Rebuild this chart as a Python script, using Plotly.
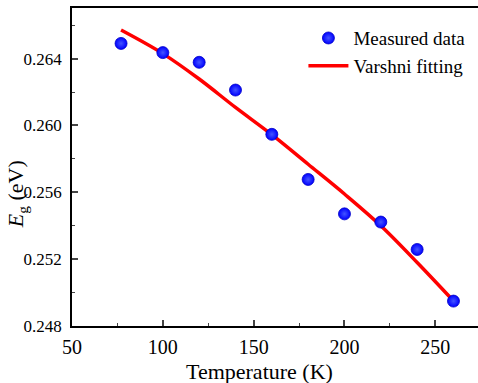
import plotly.graph_objects as go

# Measured data
temp_meas = [77, 100, 120, 140, 160, 180, 200, 220, 240, 260]
eg_meas = [0.26491, 0.26436, 0.26378, 0.26212, 0.25947, 0.25677, 0.25471, 0.25422, 0.25258, 0.24949]

# Varshni fitting curve
temp_fit = [77, 100, 120, 140, 160, 180, 200, 220, 240, 260]
eg_fit = [0.26571, 0.26430, 0.26278, 0.26108, 0.25945, 0.25768, 0.25590, 0.25400, 0.25180, 0.24950]

x_ticks = [50, 100, 150, 200, 250]
y_ticks = [0.248, 0.252, 0.256, 0.260, 0.264]

FONT = "Times New Roman, Liberation Serif, serif"

fig = go.Figure()
fig.add_trace(go.Scatter(
    x=temp_fit, y=eg_fit, mode="lines", name="Varshni fitting",
    line=dict(color="#ff0000", width=3.5, shape="spline", smoothing=1.0),
    showlegend=False,
))
fig.add_trace(go.Scatter(
    x=temp_meas, y=eg_meas, mode="markers", name="Measured data",
    marker=dict(size=12, color="#0000ff",
                gradient=dict(type="radial", color="#4455ff"),
                line=dict(width=0.8, color="#0000c8")),
))
fig.add_trace(go.Scatter(
    x=[None], y=[None], mode="lines", name="Varshni fitting",
    line=dict(color="#ff0000", width=3.5),
))

fig.update_layout(
    width=478, height=383,
    margin=dict(l=72, r=0, t=8, b=57),
    paper_bgcolor="white", plot_bgcolor="white",
    font=dict(family=FONT, size=17, color="black"),
    legend=dict(x=0.57, y=0.965, xanchor="left", yanchor="top",
                bgcolor="rgba(0,0,0,0)", font=dict(family=FONT, size=19),
                tracegroupgap=0, itemwidth=40),
    annotations=[
        dict(text="Temperature (K)", xref="paper", yref="paper",
             x=0.462, y=-0.142, xanchor="center", yanchor="middle",
             showarrow=False, font=dict(family=FONT, size=22)),
        dict(text="<i>E</i><sub>g</sub> (eV)", xref="paper", yref="paper",
             x=-0.135, y=0.415, xanchor="center", yanchor="middle", textangle=-90,
             showarrow=False, font=dict(family=FONT, size=22)),
    ],
)
fig.update_xaxes(
    range=[50, 273.5], tickvals=x_ticks, ticks="inside", ticklen=6, tickwidth=1.5,
    minor=dict(dtick=25, ticks="inside", ticklen=3, tickwidth=1.2, tick0=50),
    showgrid=False, zeroline=False, showline=True, linecolor="black", linewidth=1.5,
    mirror=True, ticklabelstandoff=2,
    tickfont=dict(family=FONT, size=20),
)
fig.update_yaxes(
    range=[0.248, 0.26703], tickvals=y_ticks, tickformat=".3f", ticks="inside", ticklen=6, tickwidth=1.5,
    minor=dict(dtick=0.002, tick0=0.248, ticks="inside", ticklen=3, tickwidth=1.2),
    showgrid=False, zeroline=False, showline=True, linecolor="black", linewidth=1.5,
    mirror=False, ticklabelstandoff=5,
    tickfont=dict(family=FONT, size=17),
)

fig.write_html("out.html")
